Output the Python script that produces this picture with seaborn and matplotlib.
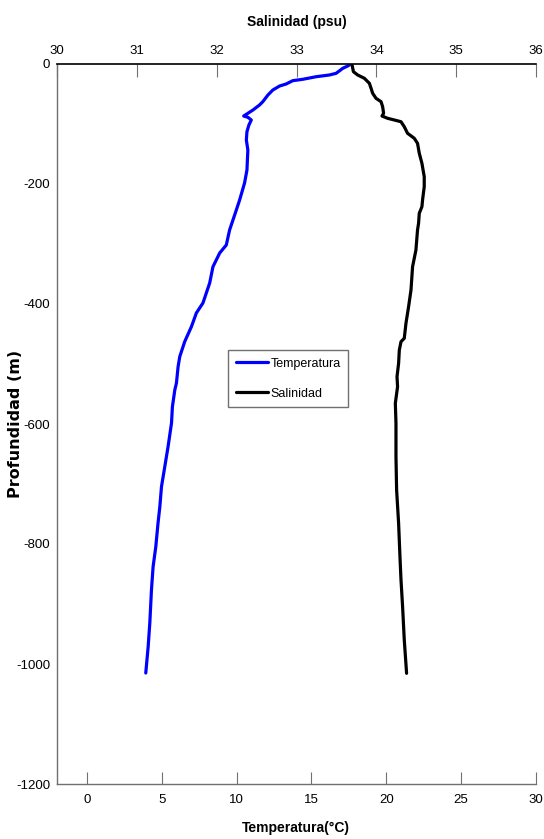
import matplotlib
matplotlib.use("Agg")
import matplotlib.pyplot as plt
import seaborn as sns
import numpy as np

# ---- data ----
temp_depth = [-1.7, -3.3, -7.2, -15.5, -18.3, -21.2, -25.5, -27.8, -33.3, -36.7, -43.3, -51.7,
              -62.8, -68.3, -76.7, -82.2, -86.7, -88.8, -93.3, -101.7, -112.8, -126.7, -143.3,
              -176.7, -198.3, -226.7, -243.3, -276.7, -301.7, -315.0, -337.8, -365.0, -398.3,
              -415.0, -437.8, -462.8, -487.8, -504.5, -531.7, -543.3, -571.2, -598.3, -637.8,
              -671.2, -704.5, -737.8, -765.0, -804.5, -837.8, -876.7, -931.7, -971.2, -1015.0]
temperature = [17.53, 17.42, 17.09, 16.65, 16.20, 15.31, 14.42, 13.75, 13.31, 12.87, 12.42, 12.09,
               11.75, 11.53, 11.09, 10.75, 10.47, 10.75, 10.98, 10.82, 10.69, 10.65, 10.75,
               10.69, 10.53, 10.20, 9.98, 9.53, 9.31, 8.87, 8.42, 8.20, 7.75,
               7.31, 6.98, 6.53, 6.20, 6.09, 5.98, 5.87, 5.71, 5.65, 5.42,
               5.20, 4.98, 4.87, 4.75, 4.60, 4.42, 4.31, 4.20, 4.09, 3.93]

sal_depth = [-1.7, -12.8, -18.3, -23.8, -32.2, -40.5, -48.8, -57.2, -62.8, -71.2, -82.2, -86.7,
             -90.5, -93.3, -96.2, -104.5, -115.5, -123.8, -132.2, -148.8, -165.5, -187.8, -204.5,
             -226.7, -237.8, -248.8, -265.5, -276.7, -310.0, -337.8, -376.7, -404.5, -432.2,
             -457.2, -462.8, -476.7, -498.8, -521.2, -537.8, -565.5, -598.8, -654.5, -710.0,
             -765.5, -821.2, -860.0, -904.5, -960.0, -1015.5]
salinity = [33.696, 33.713, 33.766, 33.850, 33.913, 33.934, 33.954, 33.996, 34.059, 34.079, 34.091, 34.071,
            34.141, 34.225, 34.309, 34.350, 34.391, 34.475, 34.516, 34.538, 34.571, 34.600, 34.600,
            34.579, 34.571, 34.538, 34.529, 34.516, 34.496, 34.454, 34.434, 34.404, 34.371,
            34.350, 34.309, 34.288, 34.279, 34.259, 34.266, 34.238, 34.246, 34.246, 34.254,
            34.279, 34.296, 34.309, 34.329, 34.350, 34.379]

temp_ticks = [0, 5, 10, 15, 20, 25, 30]
sal_ticks = [30, 31, 32, 33, 34, 35, 36]
depth_ticks = [-1200, -1000, -800, -600, -400, -200, 0]

# ---- style ----
sns.set_theme(style="white")
narrow = ['Liberation Sans Narrow', 'Arial Narrow', 'Liberation Sans', 'DejaVu Sans']
plt.rcParams['font.family'] = narrow
plt.rcParams['axes.unicode_minus'] = False
plt.rcParams['text.color'] = 'black'
plt.rcParams['axes.labelcolor'] = 'black'

fig = plt.figure(figsize=(5.44, 8.39), dpi=100)
ax = fig.add_axes([57/544, 1-784/839, 479/544, 720/839])
ax2 = ax.twiny()

grey = '#707070'

sns.lineplot(x=temperature, y=temp_depth, ax=ax, sort=False, estimator=None,
             color='#0000ff', lw=2.3, label='Temperatura')
sns.lineplot(x=salinity, y=sal_depth, ax=ax2, sort=False, estimator=None,
             color='black', lw=2.3, label='Salinidad')

ax.set_xlim(-2, 30)
ax2.set_xlim(30, 36)
ax.set_ylim(-1200, 0)
ax.set_xticks(temp_ticks)
ax.set_xticklabels([str(t) for t in temp_ticks])
ax2.set_xticks(sal_ticks)
ax2.set_xticklabels([str(t) for t in sal_ticks])
ax.set_yticks(depth_ticks)
ax.set_yticklabels([str(t) for t in depth_ticks])

for a in (ax, ax2):
    leg = a.get_legend()
    if leg is not None:
        leg.remove()

# spines
ax.spines['top'].set_visible(False)
ax.spines['right'].set_visible(False)
ax.spines['bottom'].set_color(grey)
ax.spines['left'].set_color(grey)
ax.spines['bottom'].set_linewidth(1.0)
ax.spines['left'].set_linewidth(1.0)
for s in ('bottom', 'left', 'right'):
    ax2.spines[s].set_visible(False)
ax2.spines['top'].set_color('black')
ax2.spines['top'].set_linewidth(1.2)

ax.tick_params(axis='x', direction='in', length=9, width=0.8, color=grey,
               labelsize=9.5, pad=7, labelcolor='black', bottom=True, top=False)
ax.tick_params(axis='y', direction='in', length=0, width=0.8, color=grey,
               labelsize=9.5, pad=5, labelcolor='black', left=True, right=False)
ax2.tick_params(axis='x', direction='in', length=9, width=0.8, color=grey,
                labelsize=9.5, pad=5, labelcolor='black', top=True, bottom=False)

ax.set_xlabel('Temperatura(°C)', fontsize=10, fontweight='bold', family=narrow, color='black')
ax2.set_xlabel('Salinidad (psu)', fontsize=10, fontweight='bold', family=narrow, color='black')
ax.set_ylabel('Profundidad (m)', fontsize=11.5, fontweight='bold', family=['DejaVu Sans'],
              color='black')
ax.xaxis.set_label_coords((296-57)/479, -0.0514)
ax2.xaxis.set_label_coords((297-57)/479, 1.0528)
ax.yaxis.set_label_coords((23-57)/479, 0.5)

h1 = ax.get_lines()[0]
h2 = ax2.get_lines()[0]
lg = ax2.legend([h1, h2], ['Temperatura', 'Salinidad'], loc='upper left',
                bbox_to_anchor=((228-57)/479, (784-350)/720),
                bbox_transform=ax.transAxes, borderaxespad=0,
                fancybox=False, framealpha=1, edgecolor=grey,
                fontsize=9, handlelength=2.6, labelspacing=1.45,
                handletextpad=0.2, borderpad=0.6)
lg.get_frame().set_linewidth(1.0)
for t in lg.get_texts():
    t.set_color('black')

fig.savefig('out.png', dpi=100)
